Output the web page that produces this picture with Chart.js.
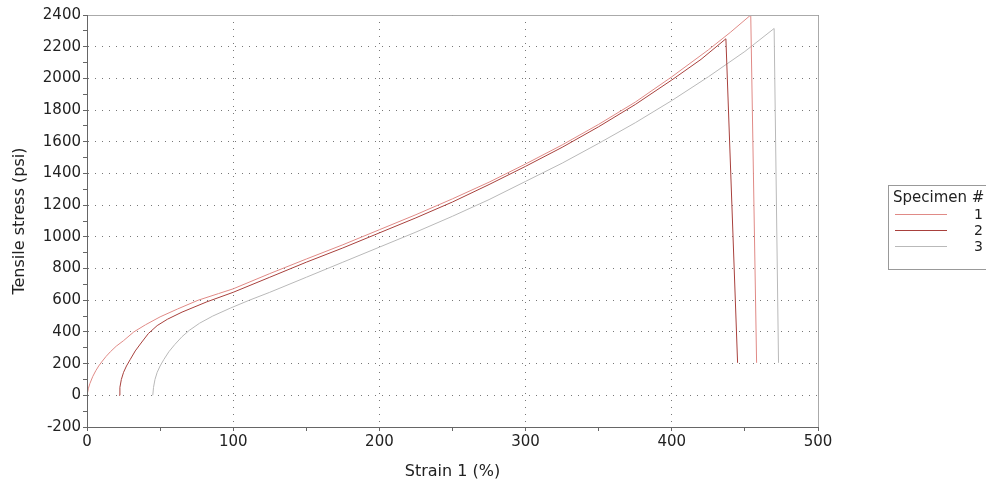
<!DOCTYPE html>
<html>
<head>
<meta charset="utf-8">
<script src="https://cdn.jsdelivr.net/npm/chart.js@4/dist/chart.umd.min.js"></script>
<style>
	html, body { margin: 0; padding: 0; background: #fff; }
	#wrap { position: relative; width: 986px; height: 489px; }
	#legend {
		position: absolute; left: 888px; top: 185px; width: 110px; height: 85px;
		border: 1px solid #999; border-right: none; box-sizing: border-box;
		font-family: "DejaVu Sans", sans-serif; font-size: 14px; color: #222;
		padding: 3px 0 0 4px; line-height: 17px;
	}
	#legend .title { font-size: 15px; }
	#legend .row { position: relative; height: 16px; }
	#legend .row span.ln { position: absolute; left: 2px; top: 8px; width: 52px; border-top: 1px solid; }
	#legend .row span.num { position: absolute; left: 81px; top: 0; }
</style>
</head>
<body>
<div id="wrap">
	<canvas id="tensile_chart" width="986" height="489"></canvas>
	<div id="legend"><div class="title">Specimen #</div></div>
</div>
<script>
// specimen names
var specimens = ['1', '2', '3']
var seriesColors = ['#e08a86', '#a8403c', '#b9b9b9']

// strain (%) / stress (psi)
var strain1 = [0, 1, 2, 4, 6, 8, 10, 13, 16, 20, 25, 32, 40, 50, 62, 76, 90, 100, 125, 150, 175, 200, 225, 250, 275, 300, 325, 350, 375, 400, 425, 440, 454, 458]
var stress1 = [0, 45, 75, 120, 155, 185, 210, 245, 275, 310, 345, 400, 445, 495, 545, 600, 642, 672, 768, 860, 950, 1045, 1140, 1240, 1345, 1460, 1580, 1710, 1850, 2010, 2180, 2290, 2400, 205]

var strain2 = [22, 22.5, 23.5, 25, 27, 29.5, 33, 37, 42, 48, 55, 65, 82, 100, 125, 150, 175, 200, 225, 250, 275, 300, 325, 350, 375, 400, 420, 437, 445]
var stress2 = [0, 50, 100, 145, 185, 225, 280, 330, 390, 440, 480, 525, 590, 650, 745, 840, 930, 1025, 1120, 1220, 1330, 1445, 1565, 1695, 1835, 1990, 2120, 2250, 205]

var strain3 = [45, 45.5, 46.5, 48, 50, 52.5, 56, 60, 65, 70, 77, 86, 98, 111, 125, 150, 175, 200, 225, 250, 275, 300, 325, 350, 375, 400, 425, 450, 470, 473]
var stress3 = [0, 50, 100, 145, 185, 225, 275, 320, 370, 410, 455, 500, 550, 600, 650, 745, 840, 935, 1030, 1130, 1235, 1350, 1465, 1590, 1720, 1860, 2010, 2170, 2315, 205]

var xTicks = [0, 100, 200, 300, 400, 500]
var yTicks = [-200, 0, 200, 400, 600, 800, 1000, 1200, 1400, 1600, 1800, 2000, 2200, 2400]

function toPoints(xs, ys) {
	var pts = []
	for (var i = 0; i < xs.length; i++) {
		pts.push({ x: xs[i], y: ys[i] })
	}
	return pts
}

var allStrain = [strain1, strain2, strain3]
var allStress = [stress1, stress2, stress3]

var datasets = specimens.map(function (name, i) {
	return {
		label: name,
		data: toPoints(allStrain[i], allStress[i]),
		borderColor: seriesColors[i],
		borderWidth: 1,
		pointRadius: 0,
		showLine: true,
		fill: false,
		tension: 0,
	}
})

// html legend
var legend = document.getElementById('legend')
specimens.forEach(function (name, i) {
	var row = document.createElement('div')
	row.className = 'row'
	row.innerHTML = '<span class="ln" style="border-color:' + seriesColors[i] + '"></span><span class="num">' + name + '</span>'
	legend.appendChild(row)
})

var frame = {
	id: 'frame',
	afterDraw: function (chart) {
		var a = chart.chartArea
		var ctx = chart.ctx
		ctx.save()
		ctx.strokeStyle = '#aaa'
		ctx.lineWidth = 1
		ctx.beginPath()
		ctx.moveTo(a.left, a.top + 0.5)
		ctx.lineTo(a.right + 0.5, a.top + 0.5)
		ctx.lineTo(a.right + 0.5, a.bottom)
		ctx.stroke()
		// solid axis lines
		ctx.strokeStyle = '#666'
		ctx.beginPath()
		ctx.moveTo(a.left + 0.5, a.top)
		ctx.lineTo(a.left + 0.5, a.bottom + 0.5)
		ctx.lineTo(a.right, a.bottom + 0.5)
		ctx.stroke()
		ctx.restore()
	},
}

var font = { family: 'DejaVu Sans', size: 15 }
var titleFont = { family: 'DejaVu Sans', size: 16 }

var ctx = document.getElementById('tensile_chart').getContext('2d')
// eslint-disable-next-line no-undef
var tensileChart = new Chart(ctx, {
	type: 'scatter',
	data: { datasets: datasets },
	options: {
		responsive: false,
		animation: false,
		layout: { padding: { top: 15, right: 168, bottom: 0, left: 0 } },
		plugins: { legend: { display: false }, tooltip: { enabled: false } },
		scales: {
			x: {
				type: 'linear',
				min: 0,
				max: 500,
				afterBuildTicks: function (scale) {
					var t = []
					for (var v = 0; v <= 500; v += 50) t.push({ value: v })
					scale.ticks = t
				},
				ticks: {
					color: '#222',
					font: font,
					maxRotation: 0,
					autoSkip: false,
					padding: 2,
					callback: function (v) { return xTicks.indexOf(v) >= 0 ? String(v) : '' },
				},
				grid: {
					color: function (c) { return (c.tick && c.tick.value % 100 === 0 && c.tick.value > 0) ? '#777' : 'rgba(0,0,0,0)' },
					tickColor: '#666',
					tickBorderDash: [],
					tickLength: 4,
				},
				border: { color: '#666', width: 1, dash: [1, 6] },
				title: { display: true, text: 'Strain 1 (%)', color: '#222', font: titleFont, padding: { top: 0, bottom: 8 } },
				afterFit: function (scale) { scale.height = 62 },
			},
			y: {
				type: 'linear',
				min: -200,
				max: 2400,
				afterBuildTicks: function (scale) {
					var t = []
					for (var v = -200; v <= 2400; v += 100) t.push({ value: v })
					scale.ticks = t
				},
				ticks: {
					color: '#222',
					font: font,
					autoSkip: false,
					padding: 2,
					callback: function (v) { return yTicks.indexOf(v) >= 0 ? String(v) : '' },
				},
				grid: {
					color: function (c) { return (c.tick && c.tick.value % 200 === 0 && c.tick.value > -200) ? '#777' : 'rgba(0,0,0,0)' },
					tickColor: '#666',
					tickBorderDash: [],
					tickLength: 4,
				},
				border: { color: '#666', width: 1, dash: [1, 6] },
				title: { display: true, text: 'Tensile stress (psi)', color: '#222', font: titleFont, padding: { top: 10, bottom: 0 } },
				afterFit: function (scale) { scale.width = 87 },
			},
		},
	},
	plugins: [frame],
})
</script>
</body>
</html>
